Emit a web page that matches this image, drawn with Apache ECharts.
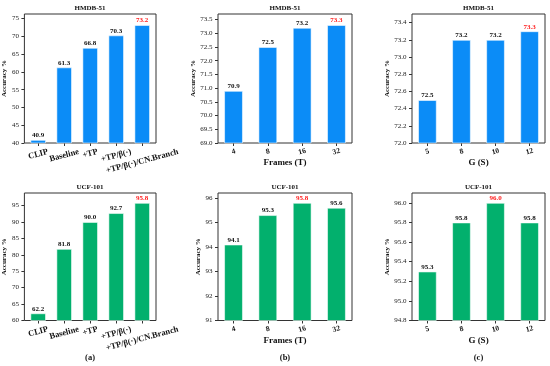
<!DOCTYPE html>
<html><head><meta charset="utf-8">
<script src="https://cdn.jsdelivr.net/npm/echarts@6/dist/echarts.min.js"></script>
<style>html,body{margin:0;padding:0;background:#fff}#c{width:550px;height:366px}</style>
</head><body><div id="c"></div>
<script>
// ---- data ----
const ablationCats = ['CLIP', 'Baseline', '+TP', '+TP/β(·)', '+TP/β(·)/CN.Branch'];
const framesCats = ['4', '8', '16', '32'];
const groupCats = ['5', '8', '10', '12'];

const hmdbAblation = [40.9, 61.3, 66.8, 70.3, 73.2];
const hmdbFrames = [70.9, 72.5, 73.2, 73.3];
const hmdbGroups = [72.5, 73.2, 73.2, 73.3];
const ucfAblation = [62.2, 81.8, 90.0, 92.7, 95.8];
const ucfFrames = [94.1, 95.3, 95.8, 95.6];
const ucfGroups = [95.3, 95.8, 96.0, 95.8];

const hmdbAblationTicks = [40, 45, 50, 55, 60, 65, 70, 75];
const hmdbFramesTicks = [69.0, 69.5, 70.0, 70.5, 71.0, 71.5, 72.0, 72.5, 73.0, 73.5];
const hmdbGroupsTicks = [72.0, 72.2, 72.4, 72.6, 72.8, 73.0, 73.2, 73.4];
const ucfAblationTicks = [60, 65, 70, 75, 80, 85, 90, 95];
const ucfFramesTicks = [91, 92, 93, 94, 95, 96];
const ucfGroupsTicks = [94.8, 95.0, 95.2, 95.4, 95.6, 95.8, 96.0];

const hmdbAblationRange = [40, 76.3];
const hmdbFramesRange = [69, 73.7];
const hmdbGroupsRange = [72, 73.5];
const ucfAblationRange = [60, 98.8];
const ucfFramesRange = [91, 96.2];
const ucfGroupsRange = [94.8, 96.1];

const datasetTitles = ['HMDB-51', 'UCF-101'];
const xNames = ['', 'Frames (T)', 'G (S)'];
const panelTags = ['(a)', '(b)', '(c)'];
const yName = 'Accuracy %';

// ---- layout / style ----
const FONT = '"Liberation Serif","Times New Roman","DejaVu Serif",serif';
const TXT = '#111';
const cols = [{ left: 24, width: 132 }, { left: 218, width: 134 }, { left: 412, width: 133 }];
const rows = [{ top: 14, height: 129 }, { top: 193, height: 127.5 }];
const rowColors = ['#0b8cf7', '#02b06d'];
const barRel = [0.6, 0.55, 0.55];

const panels = [
  { r: 0, c: 0, cats: ablationCats, vals: hmdbAblation, ticks: hmdbAblationTicks, range: hmdbAblationRange, dec: 0 },
  { r: 0, c: 1, cats: framesCats, vals: hmdbFrames, ticks: hmdbFramesTicks, range: hmdbFramesRange, dec: 1 },
  { r: 0, c: 2, cats: groupCats, vals: hmdbGroups, ticks: hmdbGroupsTicks, range: hmdbGroupsRange, dec: 1 },
  { r: 1, c: 0, cats: ablationCats, vals: ucfAblation, ticks: ucfAblationTicks, range: ucfAblationRange, dec: 0 },
  { r: 1, c: 1, cats: framesCats, vals: ucfFrames, ticks: ucfFramesTicks, range: ucfFramesRange, dec: 0 },
  { r: 1, c: 2, cats: groupCats, vals: ucfGroups, ticks: ucfGroupsTicks, range: ucfGroupsRange, dec: 1 }
];

const cvs = document.createElement('canvas').getContext('2d');
function textW(str, font) { cvs.font = font; return cvs.measureText(str).width; }
const ROT = 15 * Math.PI / 180;

const grids = [], xAxes = [], yAxes = [], series = [], graphics = [];
panels.forEach((p, i) => {
  const col = cols[p.c], row = rows[p.r];
  const n = p.cats.length, w = barRel[p.c];
  const span = (n - 1) + w;
  const xmin = -w / 2 - 0.05 * span, xmax = (n - 1) + w / 2 + 0.05 * span;
  const spacing = col.width / (xmax - xmin);
  const idx = p.cats.map((_, k) => k);
  const isLong = p.c === 0;
  const catFs = isLong ? 8.5 : 7.5;
  const rich = {};
  let margin = 8.7;
  if (isLong) {
    const halfs = p.cats.map(s => (textW(s, 'bold ' + catFs + 'px ' + FONT) * Math.sin(ROT) + catFs * Math.cos(ROT)) / 2);
    const hmin = Math.min(...halfs);
    halfs.forEach((h, k) => {
      const D = h - hmin;
      rich['r' + k] = {
        fontFamily: FONT, fontWeight: 'bold', fontSize: catFs, color: TXT,
        padding: [2 * D * Math.cos(ROT), 2 * D * Math.sin(ROT), 0, 0]
      };
    });
    margin = 4.5 + hmin;
  }
  grids.push({ left: col.left, top: row.top, width: col.width, height: row.height, show: true,
    borderColor: '#333', borderWidth: 1, backgroundColor: 'transparent' });
  xAxes.push({
    type: 'value', gridIndex: i, min: xmin, max: xmax,
    axisLine: { show: false, onZero: false }, splitLine: { show: false },
    axisTick: { show: true, customValues: idx, length: 3, lineStyle: { color: '#333', width: 1 } },
    axisLabel: {
      // empty labels at the axis ends keep every category label visible
      customValues: [xmin].concat(idx, [xmax]), rotate: 15, align: 'center', verticalAlign: 'middle', margin: margin,
      hideOverlap: false,
      fontFamily: FONT, fontWeight: 'bold', fontSize: catFs, color: TXT, rich: rich,
      formatter: v => {
        const k = Math.round(v);
        if (Math.abs(v - k) > 1e-6 || k < 0 || k >= n) return '';
        return isLong ? '{r' + k + '|' + p.cats[k] + '}' : p.cats[k];
      }
    },
    name: xNames[p.c], nameLocation: 'middle', nameGap: 15,
    nameTextStyle: { fontFamily: FONT, fontWeight: 'bold', fontSize: 9, color: TXT }
  });
  const intTicks = p.ticks.every(t => Number.isInteger(t));
  yAxes.push({
    type: 'value', gridIndex: i, min: p.range[0], max: p.range[1],
    axisLine: { show: false, onZero: false }, splitLine: { show: false },
    axisTick: { show: true, customValues: p.ticks, length: 3, lineStyle: { color: '#333', width: 1 } },
    axisLabel: { customValues: p.ticks, margin: 5.5, fontFamily: FONT, fontSize: 7, color: '#222',
      hideOverlap: false, formatter: v => v.toFixed(p.dec) },
    name: yName, nameLocation: 'middle', nameRotate: 90, nameGap: intTicks ? 13.5 : 21,
    nameTextStyle: { fontFamily: FONT, fontWeight: 'bold', fontSize: 7, color: TXT }
  });
  const best = Math.max(...p.vals);
  series.push({
    type: 'bar', xAxisIndex: i, yAxisIndex: i, barWidth: w * spacing,
    itemStyle: { color: rowColors[p.r], borderColor: 'rgba(255,255,255,0.55)', borderWidth: 1 },
    label: { show: true, position: 'top', distance: 1, fontFamily: FONT, fontWeight: 'bold', fontSize: 7,
      formatter: q => q.value[1].toFixed(1) },
    data: p.vals.map((v, k) => ({ value: [k, v], label: { color: v === best ? '#ff1a1a' : TXT } })),
    animation: false
  });
  const cx = col.left + col.width / 2;
  graphics.push({ type: 'text', x: cx, y: row.top - 5.5, style: { text: datasetTitles[p.r], font: 'bold 7px ' + FONT,
    fill: TXT, textAlign: 'center', textVerticalAlign: 'middle' } });
  if (p.r === 1) {
    graphics.push({ type: 'text', x: cx, y: 358, style: { text: panelTags[p.c], font: 'bold 8.5px ' + FONT,
      fill: TXT, textAlign: 'center', textVerticalAlign: 'middle' } });
  }
});

const chart = echarts.init(document.getElementById('c'), null, { renderer: 'canvas' });
chart.setOption({
  animation: false, backgroundColor: '#fff',
  grid: grids, xAxis: xAxes, yAxis: yAxes, series: series, graphic: graphics
});
</script></body></html>
